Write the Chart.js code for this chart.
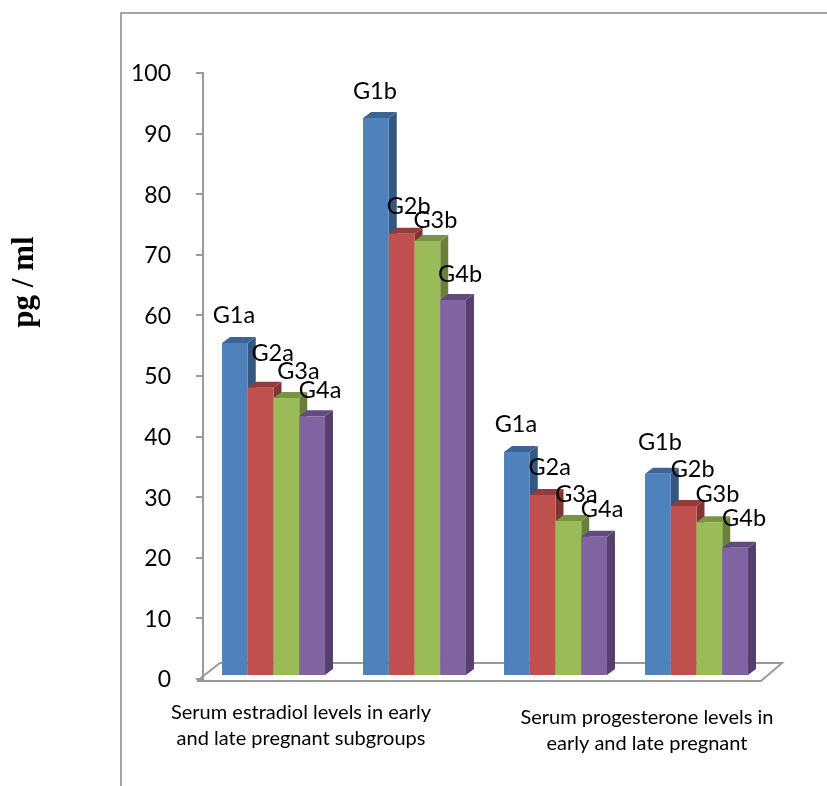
<!DOCTYPE html>
<html>
<head>
<meta charset="utf-8">
<title>Serum estradiol and progesterone</title>
<style>
  html, body { margin: 0; padding: 0; background: #fff; }
  canvas { display: block; }
</style>
<script src="https://cdn.jsdelivr.net/npm/chart.js@4"></script>
</head>
<body>
<canvas id="myChart" width="827" height="786"></canvas>
<script>
// four groups of bars, one series per G number
const groups = ["Estradiol early", "Estradiol late", "Progesterone early", "Progesterone late"];
const seriesNames = ["G1", "G2", "G3", "G4"];
const g1Values = [54.8, 91.9, 36.8, 33.2];
const g2Values = [47.4, 72.8, 29.7, 27.9];
const g3Values = [45.7, 71.6, 25.4, 25.2];
const g4Values = [42.7, 61.9, 22.8, 21.0];
const g1Labels = ["G1a", "G1b", "G1a", "G1b"];
const g2Labels = ["G2a", "G2b", "G2a", "G2b"];
const g3Labels = ["G3a", "G3b", "G3a", "G3b"];
const g4Labels = ["G4a", "G4b", "G4a", "G4b"];
const yTicks = [0, 10, 20, 30, 40, 50, 60, 70, 80, 90, 100];
const yTitle = "pg / ml";
const leftCaption = ["Serum estradiol levels in early", "and late pregnant subgroups"];
const rightCaption = ["Serum progesterone levels in", "early and late pregnant"];

// fronts, tops and sides of the 3D bars
const frontColors = ["#4f81bd", "#c0504d", "#9bbb59", "#8064a2"];
const topColors = ["#3c6494", "#953b39", "#789440", "#624a80"];
const sideColors = ["#35577f", "#823432", "#68803a", "#543f6d"];
const depthX = 8;
const depthY = 6;
const axisColor = "#9a9a9a";
const labelFont = "23.5px Lato";

// label offsets from the top centre of each bar
const labelNudge = [
  [[-1, -27], [-1, -27], [-1, -28], [2, -31]],
  [[12, -34], [7, -27], [7, -28], [9, -37]],
  [[12, -27], [8, -21], [8, -27], [8, -28]],
  [[8, -26], [7, -25], [8, -27], [9, -29]],
];
const allLabels = [g1Labels, g2Labels, g3Labels, g4Labels];
const seriesValues = [g1Values, g2Values, g3Values, g4Values];

function drawFaces(ctx, meta, i) {
  meta.data.forEach((bar) => {
    const left = bar.x - bar.width / 2;
    const right = bar.x + bar.width / 2;
    ctx.fillStyle = sideColors[i];
    ctx.beginPath();
    ctx.moveTo(right, bar.y);
    ctx.lineTo(right + depthX, bar.y - depthY);
    ctx.lineTo(right + depthX, bar.base - depthY);
    ctx.lineTo(right, bar.base);
    ctx.closePath();
    ctx.fill();
    ctx.fillStyle = topColors[i];
    ctx.beginPath();
    ctx.moveTo(left, bar.y);
    ctx.lineTo(left + depthX, bar.y - depthY);
    ctx.lineTo(right + depthX, bar.y - depthY);
    ctx.lineTo(right, bar.y);
    ctx.closePath();
    ctx.fill();
  });
}

const threeD = {
  id: "threeD",
  // series are painted left to right below, so later bars cover earlier sides
  beforeDatasetDraw() {
    return false;
  },
  beforeDatasetsDraw(chart) {
    // floor of the 3D box, and the outer page frame
    const { ctx, chartArea: a } = chart;
    const front = a.bottom + 2;
    const back = a.bottom - 16;
    ctx.save();
    ctx.strokeStyle = axisColor;
    ctx.lineWidth = 2;
    ctx.beginPath();
    ctx.moveTo(a.left - 6, front);
    ctx.lineTo(a.right - 6, front);
    ctx.lineTo(a.right + 15, back);
    ctx.lineTo(a.left + 17, back);
    ctx.lineTo(a.left - 6, front);
    ctx.stroke();

    ctx.strokeStyle = "#868686";
    ctx.lineWidth = 1.5;
    ctx.beginPath();
    ctx.moveTo(121, chart.height);
    ctx.lineTo(121, 13);
    ctx.lineTo(chart.width, 13);
    ctx.stroke();
    ctx.restore();
  },
  afterDatasetsDraw(chart) {
    const { ctx } = chart;
    ctx.save();
    chart.data.datasets.forEach((ds, i) => {
      const meta = chart.getDatasetMeta(i);
      drawFaces(ctx, meta, i);
      meta.controller.draw();
    });

    ctx.fillStyle = "#000";
    ctx.textAlign = "center";
    ctx.textBaseline = "middle";
    ctx.font = labelFont;
    chart.data.datasets.forEach((ds, i) => {
      chart.getDatasetMeta(i).data.forEach((bar, j) => {
        const nudge = labelNudge[i][j];
        ctx.fillText(allLabels[i][j], bar.x + nudge[0], bar.y + nudge[1]);
      });
    });

    ctx.font = "20px Lato";
    leftCaption.forEach((line, n) => ctx.fillText(line, 301, 713 + n * 26));
    rightCaption.forEach((line, n) => ctx.fillText(line, 647, 718 + n * 26));

    ctx.font = "bold 31px 'Liberation Serif'";
    ctx.translate(25, 282);
    ctx.rotate(-Math.PI / 2);
    ctx.fillText(yTitle, 0, 0);
    ctx.restore();
  },
};

new Chart(document.getElementById("myChart").getContext("2d"), {
  type: "bar",
  data: {
    labels: groups,
    datasets: seriesNames.map((name, i) => ({
      label: name,
      data: seriesValues[i],
      backgroundColor: frontColors[i],
      yAxisID: "yDepth",
    })),
  },
  plugins: [threeD],
  options: {
    responsive: false,
    animation: false,
    layout: { padding: { top: 73, bottom: 107, right: 60, left: 0 } },
    plugins: { legend: { display: false }, tooltip: { enabled: false } },
    datasets: { bar: { barPercentage: 1, categoryPercentage: 0.73 } },
    scales: {
      x: { display: false },
      y: {
        position: "left",
        weight: 0,
        min: 0,
        max: 100,
        afterFit(scale) { scale.width = 195; },
        afterBuildTicks(scale) { scale.ticks = yTicks.map((v) => ({ value: v })); },
        border: { color: axisColor, width: 2 },
        grid: { drawOnChartArea: false, color: axisColor, lineWidth: 2, tickLength: 7 },
        ticks: { color: "#000", padding: 25, labelOffset: 1, font: { family: "Lato", size: 23 } },
      },
      // bars stand a little in from the front edge of the box, so they get their own baseline
      yDepth: {
        position: "left",
        weight: 1,
        min: -0.66,
        max: 99.34,
        afterFit(scale) { scale.width = 8; },
        border: { display: false },
        grid: { display: false },
        ticks: { display: false },
      },
    },
  },
});
</script>
</body>
</html>
